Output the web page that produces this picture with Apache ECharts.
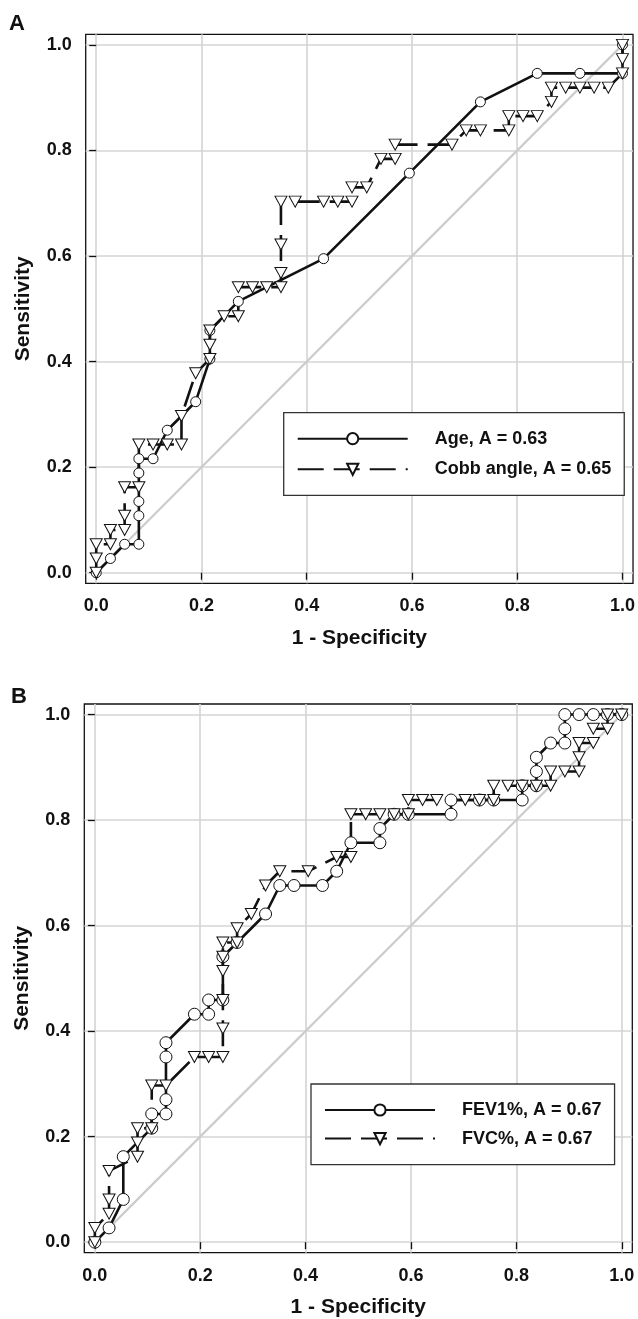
<!DOCTYPE html>
<html>
<head>
<meta charset="utf-8">
<script src="https://cdn.jsdelivr.net/npm/echarts@6/dist/echarts.min.js"></script>
<style>
  html, body { margin: 0; padding: 0; background: #fff; }
  #chart { width: 638px; height: 1319px; }
</style>
</head>
<body>
<div id="chart"></div>
<script>
// tick positions on both axes
var ticks = [0, 0.2, 0.4, 0.6, 0.8, 1.0];
var diag = [0, 1];

// panel A - Age (circles, solid)
var ageX = [0, 0.027, 0.054, 0.081, 0.081, 0.081, 0.081, 0.081, 0.108, 0.135, 0.189, 0.216, 0.216, 0.270, 0.432, 0.595, 0.730, 0.838, 0.919, 1, 1];
var ageY = [0, 0.027, 0.054, 0.054, 0.108, 0.135, 0.189, 0.216, 0.216, 0.270, 0.324, 0.405, 0.459, 0.514, 0.595, 0.757, 0.892, 0.946, 0.946, 0.946, 1];

// panel A - Cobb angle (triangles, dashed)
var cobbX = [0, 0, 0, 0.027, 0.027, 0.054, 0.054, 0.054, 0.081, 0.081, 0.108, 0.135, 0.162, 0.162, 0.189, 0.216, 0.216, 0.216, 0.243, 0.270, 0.270, 0.297, 0.324, 0.351, 0.351, 0.351, 0.351, 0.378, 0.432, 0.459, 0.486, 0.486, 0.514, 0.541, 0.568, 0.568, 0.676, 0.703, 0.730, 0.784, 0.784, 0.811, 0.838, 0.865, 0.865, 0.892, 0.919, 0.946, 0.973, 1, 1, 1];
var cobbY = [0, 0.027, 0.054, 0.054, 0.081, 0.081, 0.108, 0.162, 0.162, 0.243, 0.243, 0.243, 0.243, 0.297, 0.378, 0.405, 0.432, 0.459, 0.486, 0.486, 0.541, 0.541, 0.541, 0.541, 0.568, 0.622, 0.703, 0.703, 0.703, 0.703, 0.703, 0.730, 0.730, 0.784, 0.784, 0.811, 0.811, 0.838, 0.838, 0.838, 0.865, 0.865, 0.865, 0.892, 0.919, 0.919, 0.919, 0.919, 0.919, 0.946, 0.973, 1];

// panel B - FEV1% (circles, solid)
var fev1X = [0, 0.027, 0.054, 0.054, 0.108, 0.108, 0.135, 0.135, 0.135, 0.135, 0.189, 0.216, 0.216, 0.243, 0.243, 0.270, 0.324, 0.351, 0.378, 0.432, 0.459, 0.486, 0.541, 0.541, 0.568, 0.595, 0.676, 0.676, 0.730, 0.757, 0.811, 0.811, 0.838, 0.838, 0.838, 0.865, 0.892, 0.892, 0.892, 0.919, 0.946, 0.973, 1];
var fev1Y = [0, 0.027, 0.081, 0.162, 0.216, 0.243, 0.243, 0.270, 0.351, 0.378, 0.432, 0.432, 0.459, 0.459, 0.541, 0.568, 0.622, 0.676, 0.676, 0.676, 0.703, 0.757, 0.757, 0.784, 0.811, 0.811, 0.811, 0.838, 0.838, 0.838, 0.838, 0.865, 0.865, 0.892, 0.919, 0.946, 0.946, 0.973, 1, 1, 1, 1, 1];

// panel B - FVC% (triangles, dashed)
var fvcX = [0, 0, 0.027, 0.027, 0.027, 0.081, 0.081, 0.081, 0.108, 0.108, 0.135, 0.189, 0.216, 0.243, 0.243, 0.243, 0.243, 0.243, 0.243, 0.270, 0.270, 0.297, 0.324, 0.351, 0.405, 0.459, 0.486, 0.486, 0.514, 0.541, 0.568, 0.595, 0.595, 0.622, 0.649, 0.703, 0.730, 0.757, 0.757, 0.784, 0.811, 0.838, 0.865, 0.865, 0.892, 0.919, 0.919, 0.919, 0.946, 0.946, 0.973, 0.973, 1];
var fvcY = [0, 0.027, 0.054, 0.081, 0.135, 0.162, 0.189, 0.216, 0.216, 0.297, 0.297, 0.351, 0.351, 0.351, 0.405, 0.459, 0.514, 0.541, 0.568, 0.568, 0.595, 0.622, 0.676, 0.703, 0.703, 0.730, 0.730, 0.811, 0.811, 0.811, 0.811, 0.811, 0.838, 0.838, 0.838, 0.838, 0.838, 0.838, 0.865, 0.865, 0.865, 0.865, 0.865, 0.892, 0.892, 0.892, 0.919, 0.946, 0.946, 0.973, 0.973, 1, 1];

function pairs(xs, ys) {
    var out = [];
    for (var i = 0; i < xs.length; i++) out.push([xs[i], ys[i]]);
    return out;
}

var FONT = 'Liberation Sans';
var INK = '#111';

function makeAxis(idx, name, isX) {
    return {
        type: 'value',
        gridIndex: idx,
        min: -0.02,
        max: 1.02,
        name: name,
        nameLocation: 'middle',
        nameGap: isX ? 44 : 52,
        nameTextStyle: { fontFamily: FONT, fontWeight: 'bold', fontSize: 21, color: INK },
        axisLine: { show: false },
        axisTick: { show: true, length: 7, customValues: ticks, lineStyle: { color: INK, width: 1.3 } },
        axisLabel: {
            customValues: ticks,
            margin: 14,
            fontFamily: FONT, fontWeight: 'bold', fontSize: 18, color: INK,
            formatter: function (v) { return v.toFixed(1); }
        },
        splitLine: { show: true, lineStyle: { color: '#d4d4d4', width: 1.6 } }
    };
}

function rocSeries(name, data, idx, solid, size) {
    return {
        name: name,
        type: 'line',
        xAxisIndex: idx,
        yAxisIndex: idx,
        data: data,
        symbol: solid ? 'circle' : 'triangle',
        symbolSize: solid ? size : [12, 11],
        symbolRotate: solid ? 0 : 180,
        showAllSymbol: true,
        lineStyle: { color: INK, width: 2.6, type: solid ? 'solid' : [26, 10] },
        itemStyle: { color: '#fff', borderColor: INK, borderWidth: 1 },
        z: 3
    };
}

function diagSeries(idx) {
    return {
        type: 'line',
        xAxisIndex: idx,
        yAxisIndex: idx,
        data: pairs(diag, diag),
        symbol: 'none',
        lineStyle: { color: '#cccccc', width: 2.2 },
        silent: true,
        z: 2
    };
}

function makeLegend(names, left, top, gap) {
    return {
        data: names,
        orient: 'vertical',
        left: left,
        top: top,
        itemWidth: 110,
        itemHeight: 14,
        itemGap: gap,
        padding: [17, 13, 17, 13],
        borderColor: '#333',
        borderWidth: 1.3,
        backgroundColor: '#fff',
        selectedMode: false,
        textStyle: { fontFamily: FONT, fontWeight: 'bold', fontSize: 18, color: INK, padding: [0, 0, 0, 22] },
        z: 10
    };
}

var myChart = echarts.init(document.getElementById('chart'));

var option = {
    animation: false,
    backgroundColor: '#fff',
    grid: [
        { left: 85.7, top: 34.3, width: 548.6, height: 549, show: true, borderColor: INK, borderWidth: 1.3, backgroundColor: 'transparent' },
        { left: 84.3, top: 704, width: 548, height: 548.7, show: true, borderColor: INK, borderWidth: 1.3, backgroundColor: 'transparent' }
    ],
    xAxis: [makeAxis(0, '1 - Specificity', true), makeAxis(1, '1 - Specificity', true)],
    yAxis: [makeAxis(0, 'Sensitivity', false), makeAxis(1, 'Sensitivity', false)],
    legend: [
        makeLegend(['Age, A = 0.63', 'Cobb angle, A = 0.65'], 283.7, 412.7, 12.6),
        makeLegend(['FEV1%, A = 0.67', 'FVC%, A = 0.67'], 311, 1084, 10.6)
    ],
    graphic: [
        { type: 'text', left: 9, top: 13, style: { text: 'A', font: 'bold 22px ' + FONT, fill: INK } },
        { type: 'text', left: 11, top: 686, style: { text: 'B', font: 'bold 22px ' + FONT, fill: INK } }
    ],
    series: [
        diagSeries(0),
        rocSeries('Age, A = 0.63', pairs(ageX, ageY), 0, true, 10),
        rocSeries('Cobb angle, A = 0.65', pairs(cobbX, cobbY), 0, false),
        diagSeries(1),
        rocSeries('FEV1%, A = 0.67', pairs(fev1X, fev1Y), 1, true, 12),
        rocSeries('FVC%, A = 0.67', pairs(fvcX, fvcY), 1, false)
    ]
};

myChart.setOption(option);
</script>
</body>
</html>
